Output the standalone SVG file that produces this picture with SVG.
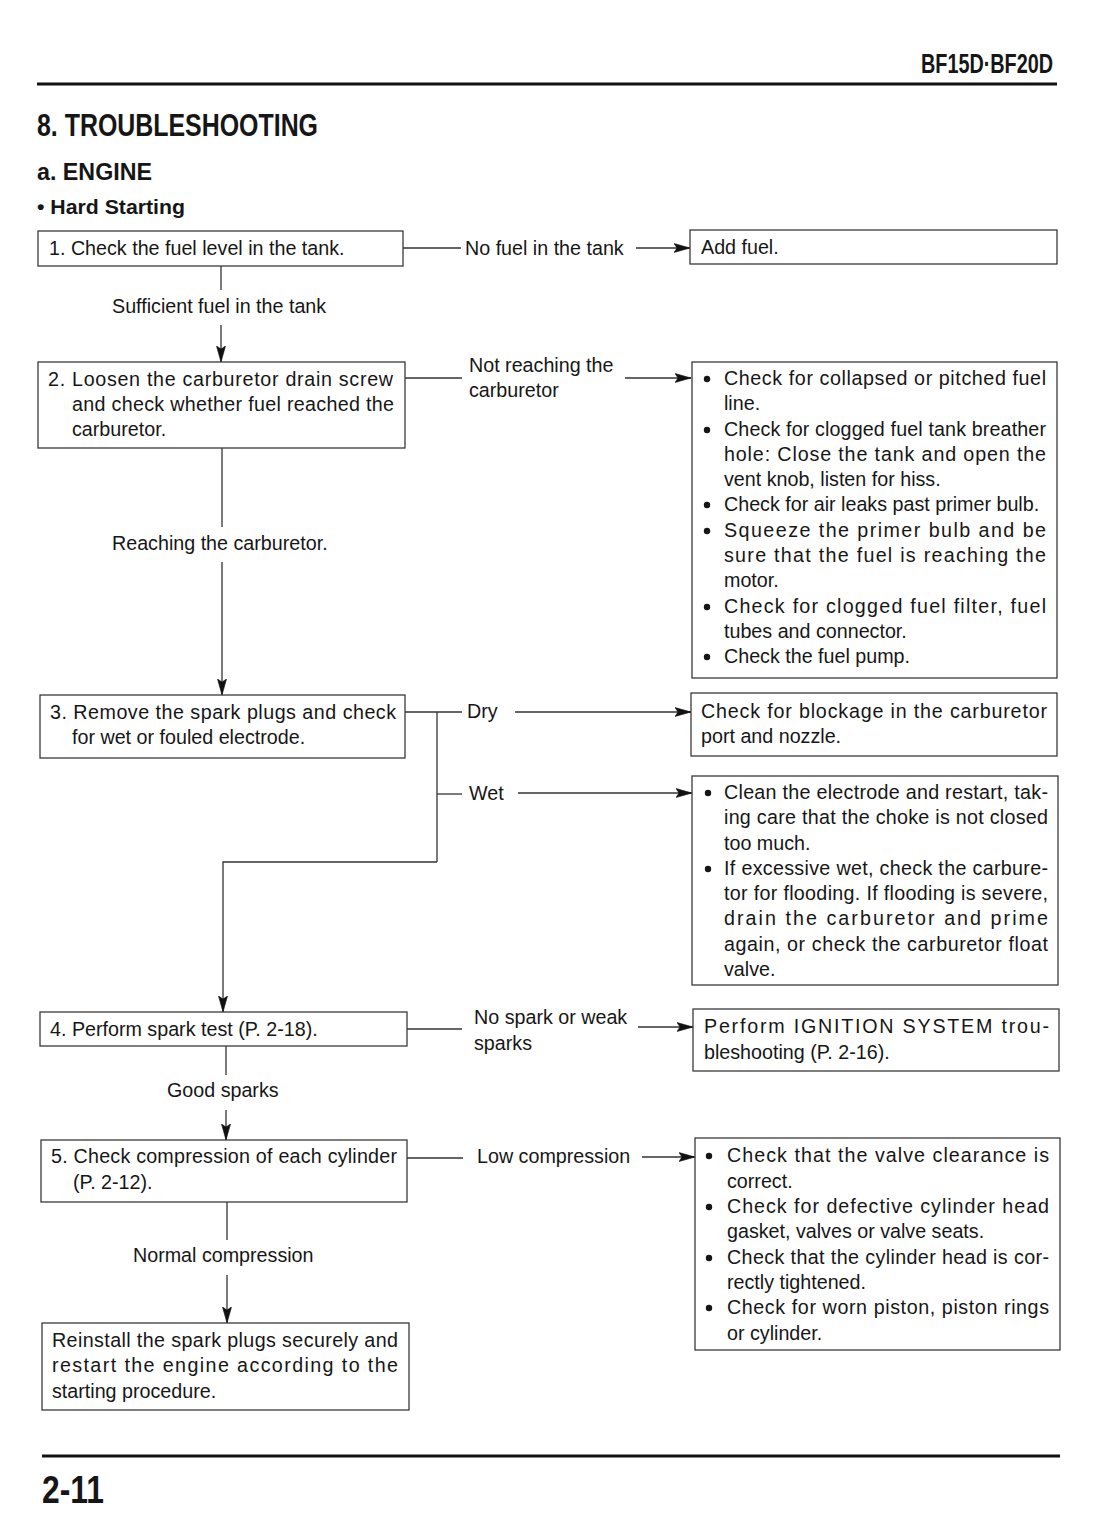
<svg xmlns="http://www.w3.org/2000/svg" width="1110" height="1514" viewBox="0 0 1110 1514">
<style>
text{font-family:"Liberation Sans",Arial,sans-serif;font-size:19.7px;fill:#161616}
.hd{font-weight:bold}
.h0{font-size:27px}
.h1{font-size:32px}
.h2{font-size:24px}
.h3{font-size:21px}
.h4{font-size:38px}
.box{fill:#fff;stroke:#3a3a3a;stroke-width:1.3}
.ln{fill:none;stroke:#333;stroke-width:1.3}
.rule{stroke:#111;stroke-width:3.2}
.bul{fill:#161616}
</style>
<defs>
<marker id="arr" viewBox="0 0 16 10" refX="16" refY="5" markerWidth="16" markerHeight="10" markerUnits="userSpaceOnUse" orient="auto">
<path d="M0,0.5 L16,5 L0,9.5 L3,5 Z" fill="#111" stroke="#111" stroke-width="0.6" stroke-linejoin="miter"/>
</marker>
</defs>
<rect width="1110" height="1514" fill="#fff"/>

<g id="header">
<text class="hd h0" x="921" y="73" textLength="132" lengthAdjust="spacingAndGlyphs">BF15D·BF20D</text>
<line class="rule" x1="37" y1="84" x2="1057" y2="84"/>
<text class="hd h1" x="37" y="136" textLength="281" lengthAdjust="spacingAndGlyphs">8. TROUBLESHOOTING</text>
<text class="hd h2" x="37" y="180" textLength="115" lengthAdjust="spacingAndGlyphs">a. ENGINE</text>
<text class="hd h3" x="37" y="214" textLength="148" lengthAdjust="spacingAndGlyphs">• Hard Starting</text>
</g>

<g id="connectors">
<line class="ln" x1="403" y1="248" x2="461" y2="248"/>
<text x="465" y="255">No fuel in the tank</text>
<line class="ln" x1="636" y1="248" x2="690" y2="248" marker-end="url(#arr)"/>
<line class="ln" x1="221" y1="266" x2="221" y2="290"/>
<text x="112" y="313">Sufficient fuel in the tank</text>
<line class="ln" x1="221" y1="325" x2="221" y2="362" marker-end="url(#arr)"/>
<line class="ln" x1="405" y1="378" x2="462" y2="378"/>
<text x="469" y="372">Not reaching the</text>
<text x="469" y="397">carburetor</text>
<line class="ln" x1="625" y1="378" x2="691" y2="378" marker-end="url(#arr)"/>
<line class="ln" x1="222" y1="448" x2="222" y2="527"/>
<text x="112" y="550">Reaching the carburetor.</text>
<line class="ln" x1="222" y1="562" x2="222" y2="695" marker-end="url(#arr)"/>
<line class="ln" x1="405" y1="712" x2="462" y2="712"/>
<text x="467" y="718">Dry</text>
<line class="ln" x1="515" y1="712" x2="691" y2="712" marker-end="url(#arr)"/>
<line class="ln" x1="437" y1="712" x2="437" y2="862"/>
<line class="ln" x1="437" y1="794" x2="462" y2="794"/>
<text x="469" y="800">Wet</text>
<line class="ln" x1="518" y1="793" x2="692" y2="793" marker-end="url(#arr)"/>
<polyline class="ln" points="437,862 223,862 223,1012" marker-end="url(#arr)"/>
<line class="ln" x1="407" y1="1029" x2="462" y2="1029"/>
<text x="474" y="1024">No spark or weak</text>
<text x="474" y="1050">sparks</text>
<line class="ln" x1="638" y1="1027" x2="693" y2="1027" marker-end="url(#arr)"/>
<line class="ln" x1="226" y1="1046" x2="226" y2="1075"/>
<text x="167" y="1097">Good sparks</text>
<line class="ln" x1="226" y1="1110" x2="226" y2="1140" marker-end="url(#arr)"/>
<line class="ln" x1="407" y1="1158" x2="463" y2="1158"/>
<text x="477" y="1163">Low compression</text>
<line class="ln" x1="642" y1="1157" x2="695" y2="1157" marker-end="url(#arr)"/>
<line class="ln" x1="227" y1="1202" x2="227" y2="1240"/>
<text x="133" y="1262">Normal compression</text>
<line class="ln" x1="227" y1="1275" x2="227" y2="1323" marker-end="url(#arr)"/>
</g>

<g id="step1">
<rect class="box" x="38" y="231" width="365" height="35"/>
<text x="49" y="255">1. Check the fuel level in the tank.</text>
</g>
<g id="add-fuel">
<rect class="box" x="690" y="230" width="367" height="34"/>
<text x="701" y="254">Add fuel.</text>
</g>

<g id="step2">
<rect class="box" x="38" y="362" width="367" height="86"/>
<text x="48" y="386" textLength="345" lengthAdjust="spacing">2. Loosen the carburetor drain screw</text>
<text x="72" y="411" textLength="322" lengthAdjust="spacing">and check whether fuel reached the</text>
<text x="72" y="436">carburetor.</text>
</g>
<g id="fuel-checks">
<rect class="box" x="692" y="362" width="365" height="316"/>
<circle class="bul" cx="707" cy="379" r="3.2"/><text x="724" y="385" textLength="322" lengthAdjust="spacing">Check for collapsed or pitched fuel</text>
<text x="724" y="410">line.</text>
<circle class="bul" cx="707" cy="430" r="3.2"/><text x="724" y="436" textLength="322" lengthAdjust="spacing">Check for clogged fuel tank breather</text>
<text x="724" y="461" textLength="322" lengthAdjust="spacing">hole: Close the tank and open the</text>
<text x="724" y="486">vent knob, listen for hiss.</text>
<circle class="bul" cx="707" cy="505" r="3.2"/><text x="724" y="511">Check for air leaks past primer bulb.</text>
<circle class="bul" cx="707" cy="531" r="3.2"/><text x="724" y="537" textLength="322" lengthAdjust="spacing">Squeeze the primer bulb and be</text>
<text x="724" y="562" textLength="322" lengthAdjust="spacing">sure that the fuel is reaching the</text>
<text x="724" y="587">motor.</text>
<circle class="bul" cx="707" cy="607" r="3.2"/><text x="724" y="613" textLength="322" lengthAdjust="spacing">Check for clogged fuel filter, fuel</text>
<text x="724" y="638">tubes and connector.</text>
<circle class="bul" cx="707" cy="657" r="3.2"/><text x="724" y="663">Check the fuel pump.</text>
</g>

<g id="step3">
<rect class="box" x="40" y="695" width="365" height="63"/>
<text x="50" y="719" textLength="346" lengthAdjust="spacing">3. Remove the spark plugs and check</text>
<text x="72" y="744">for wet or fouled electrode.</text>
</g>
<g id="dry-action">
<rect class="box" x="691" y="693" width="366" height="63"/>
<text x="701" y="718" textLength="346" lengthAdjust="spacing">Check for blockage in the carburetor</text>
<text x="701" y="743">port and nozzle.</text>
</g>
<g id="wet-action">
<rect class="box" x="692" y="776" width="366" height="209"/>
<circle class="bul" cx="708" cy="793" r="3.2"/><text x="724" y="799" textLength="324" lengthAdjust="spacing">Clean the electrode and restart, tak-</text>
<text x="724" y="824" textLength="324" lengthAdjust="spacing">ing care that the choke is not closed</text>
<text x="724" y="850">too much.</text>
<circle class="bul" cx="708" cy="869" r="3.2"/><text x="724" y="875" textLength="324" lengthAdjust="spacing">If excessive wet, check the carbure-</text>
<text x="724" y="900" textLength="324" lengthAdjust="spacing">tor for flooding. If flooding is severe,</text>
<text x="724" y="925" textLength="324" lengthAdjust="spacing">drain the carburetor and prime</text>
<text x="724" y="951" textLength="324" lengthAdjust="spacing">again, or check the carburetor float</text>
<text x="724" y="976">valve.</text>
</g>

<g id="step4">
<rect class="box" x="40" y="1012" width="367" height="34"/>
<text x="50" y="1036">4. Perform spark test (P. 2-18).</text>
</g>
<g id="ignition-action">
<rect class="box" x="693" y="1009" width="366" height="62"/>
<text x="704" y="1033" textLength="345" lengthAdjust="spacing">Perform IGNITION SYSTEM trou-</text>
<text x="704" y="1059">bleshooting (P. 2-16).</text>
</g>

<g id="step5">
<rect class="box" x="41" y="1140" width="366" height="62"/>
<text x="51" y="1163" textLength="346" lengthAdjust="spacing">5. Check compression of each cylinder</text>
<text x="73" y="1189">(P. 2-12).</text>
</g>
<g id="compression-action">
<rect class="box" x="695" y="1138" width="365" height="212"/>
<circle class="bul" cx="709" cy="1156" r="3.2"/><text x="727" y="1162" textLength="322" lengthAdjust="spacing">Check that the valve clearance is</text>
<text x="727" y="1188">correct.</text>
<circle class="bul" cx="709" cy="1207" r="3.2"/><text x="727" y="1213" textLength="322" lengthAdjust="spacing">Check for defective cylinder head</text>
<text x="727" y="1238">gasket, valves or valve seats.</text>
<circle class="bul" cx="709" cy="1258" r="3.2"/><text x="727" y="1264" textLength="322" lengthAdjust="spacing">Check that the cylinder head is cor-</text>
<text x="727" y="1289">rectly tightened.</text>
<circle class="bul" cx="709" cy="1308" r="3.2"/><text x="727" y="1314" textLength="322" lengthAdjust="spacing">Check for worn piston, piston rings</text>
<text x="727" y="1340">or cylinder.</text>
</g>

<g id="final-step">
<rect class="box" x="42" y="1323" width="367" height="87"/>
<text x="52" y="1347" textLength="346" lengthAdjust="spacing">Reinstall the spark plugs securely and</text>
<text x="52" y="1372" textLength="346" lengthAdjust="spacing">restart the engine according to the</text>
<text x="52" y="1398">starting procedure.</text>
</g>

<g id="footer">
<line class="rule" x1="42" y1="1456" x2="1060" y2="1456"/>
<text class="hd h4" x="42" y="1503" textLength="62" lengthAdjust="spacingAndGlyphs">2-11</text>
</g>
</svg>
